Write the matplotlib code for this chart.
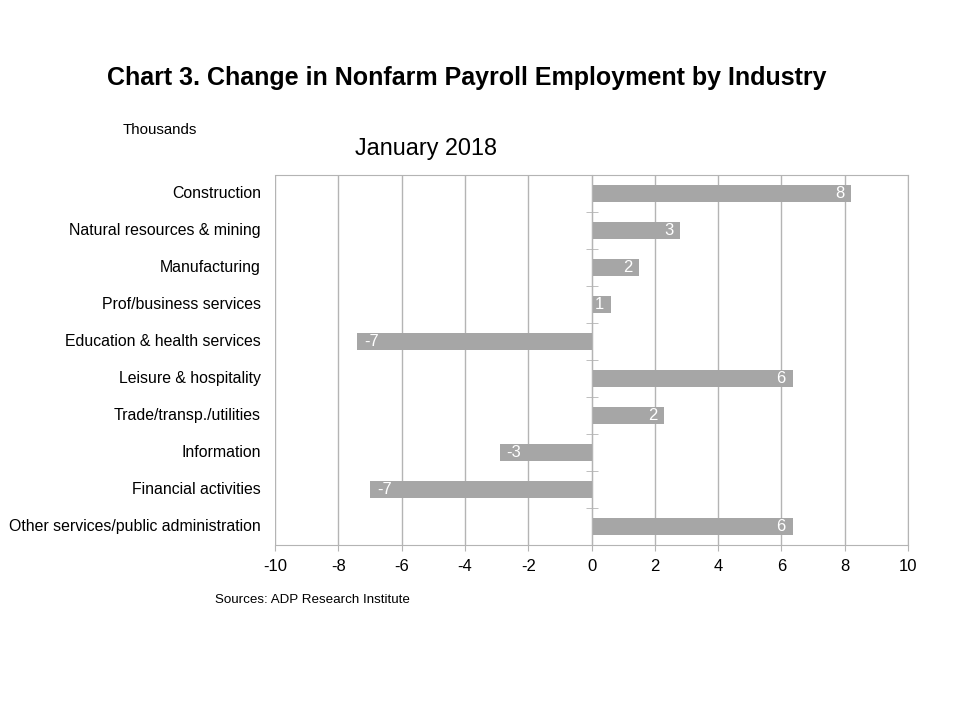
import matplotlib.pyplot as plt
import numpy as np
from matplotlib.transforms import blended_transform_factory

plt.rcParams['font.family'] = ['Liberation Sans', 'DejaVu Sans']
plt.rcParams['axes.unicode_minus'] = False

# data (thousands), top to bottom
industries = ["Construction", "Natural resources & mining", "Manufacturing",
              "Prof/business services", "Education & health services",
              "Leisure & hospitality", "Trade/transp./utilities", "Information",
              "Financial activities", "Other services/public administration"]
changes = [8.2, 2.8, 1.5, 0.6, -7.4, 6.35, 2.3, -2.9, -7.0, 6.35]
shown = [8, 3, 2, 1, -7, 6, 2, -3, -7, 6]

bar_col = "#a6a6a6"
grid_col = "#b4b4b4"

fig = plt.figure(figsize=(9.6, 7.2), dpi=100)
ax = fig.add_axes([0.2865, 0.2431, 0.6594, 0.5139])

y = np.arange(len(industries))
ax.barh(y, changes, height=0.47, color=bar_col, zorder=2)
ax.set_ylim(len(industries) - 0.5, -0.5)
ax.set_xlim(-10, 10)
ax.set_xticks(np.arange(-10, 11, 2))
ax.tick_params(axis='x', labelsize=12, colors=grid_col, labelcolor='black',
               length=4, direction='out', pad=6)
ax.grid(axis='x', color=grid_col, linewidth=1, zorder=0)

for s in ax.spines.values():
    s.set_color(grid_col)
ax.spines['left'].set_position(('data', 0))
ax.spines['left'].set_zorder(3)
ax.set_yticks([])
ax.set_yticks(np.arange(len(industries) - 1) + 0.5, minor=True)
ax.tick_params(axis='y', which='minor', direction='inout', length=9,
               color=grid_col)

# category labels on the left of the plot area
tr = blended_transform_factory(ax.transAxes, ax.transData)
for yi, name in zip(y, industries):
    ax.text(-0.022, yi, name, transform=tr, ha='right', va='center', fontsize=11.4)

# value labels inside bar ends
for yi, v, lab in zip(y, changes, shown):
    ax.annotate(str(lab), (v, yi), xytext=(-5 if v > 0 else 5, 0),
                textcoords='offset points', ha='right' if v > 0 else 'left',
                va='center', color='white', fontsize=12, zorder=4)

fig.text(0.4865, 0.891, "Chart 3. Change in Nonfarm Payroll Employment by Industry",
         ha='center', va='center', fontsize=18, fontweight='bold')
fig.text(0.128, 0.819, "Thousands", ha='left', va='center', fontsize=10.8)
fig.text(0.4438, 0.794, "January 2018", ha='center', va='center', fontsize=16.8)
fig.text(0.224, 0.166, "Sources: ADP Research Institute", ha='left', va='center',
         fontsize=9.6)

fig.savefig("out.png", dpi=100)
